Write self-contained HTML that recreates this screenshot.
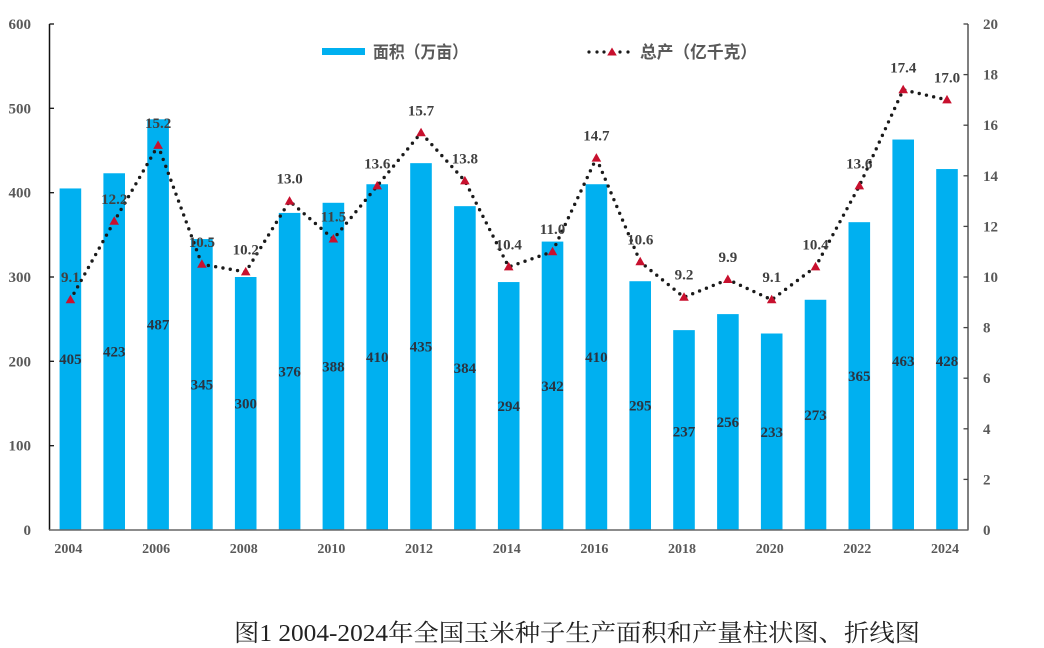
<!DOCTYPE html>
<html><head><meta charset="utf-8"><style>
html,body{margin:0;padding:0;background:#fff;}
svg{display:block;}
.tk{font-family:"Liberation Serif",serif;font-weight:bold;font-size:15px;fill:#595959;}
.yr{font-family:"Liberation Serif",serif;font-weight:bold;font-size:14px;fill:#595959;}
.bl{font-family:"Liberation Serif",serif;font-weight:bold;font-size:15px;fill:#2b3440;}
.ll{font-family:"Liberation Serif",serif;font-weight:bold;font-size:15px;fill:#404040;}
.lg{font-family:"Liberation Sans","Noto Sans CJK SC",sans-serif;font-weight:bold;font-size:17px;fill:#595959;}
.cap{font-family:"Liberation Serif","Noto Serif CJK SC",serif;font-size:24px;fill:#222;}
</style></head><body>
<svg width="1044" height="648" viewBox="0 0 1044 648" xmlns="http://www.w3.org/2000/svg">
<rect width="1044" height="648" fill="#fff"/>

<!-- bars -->
<g fill="#00B0F0">
<rect x="59.6" y="188.45" width="21.6" height="341.55"/>
<rect x="103.4" y="173.27" width="21.6" height="356.73"/>
<rect x="147.3" y="119.3" width="21.6" height="410.7"/>
<rect x="191.1" y="239.05" width="21.6" height="290.95"/>
<rect x="234.9" y="277" width="21.6" height="253"/>
<rect x="278.8" y="212.91" width="21.6" height="317.09"/>
<rect x="322.6" y="202.79" width="21.6" height="327.21"/>
<rect x="366.4" y="184.23" width="21.6" height="345.77"/>
<rect x="410.2" y="163.15" width="21.6" height="366.85"/>
<rect x="454.1" y="206.16" width="21.6" height="323.84"/>
<rect x="497.9" y="282.06" width="21.6" height="247.94"/>
<rect x="541.7" y="241.58" width="21.6" height="288.42"/>
<rect x="585.6" y="184.23" width="21.6" height="345.77"/>
<rect x="629.4" y="281.22" width="21.6" height="248.78"/>
<rect x="673.2" y="330.13" width="21.6" height="199.87"/>
<rect x="717.1" y="314.11" width="21.6" height="215.89"/>
<rect x="760.9" y="333.5" width="21.6" height="196.5"/>
<rect x="804.7" y="299.77" width="21.6" height="230.23"/>
<rect x="848.5" y="222.18" width="21.6" height="307.82"/>
<rect x="892.4" y="139.54" width="21.6" height="390.46"/>
<rect x="936.2" y="169.05" width="21.6" height="360.95"/>
</g>

<!-- bar labels -->
<g class="bl" text-anchor="middle">
<text x="70.4" y="364.2">405</text>
<text x="114.2" y="356.6">423</text>
<text x="158.1" y="329.7">487</text>
<text x="201.9" y="389.5">345</text>
<text x="245.7" y="408.5">300</text>
<text x="289.6" y="376.5">376</text>
<text x="333.4" y="371.4">388</text>
<text x="377.2" y="362.1">410</text>
<text x="421" y="351.6">435</text>
<text x="464.9" y="373.1">384</text>
<text x="508.7" y="411">294</text>
<text x="552.5" y="390.8">342</text>
<text x="596.4" y="362.1">410</text>
<text x="640.2" y="410.6">295</text>
<text x="684" y="436.6">237</text>
<text x="727.9" y="427.1">256</text>
<text x="771.7" y="436.8">233</text>
<text x="815.5" y="419.9">273</text>
<text x="859.3" y="381.1">365</text>
<text x="903.2" y="366">463</text>
<text x="947" y="366">428</text>
</g>

<!-- axes -->
<line x1="49.5" y1="24" x2="49.5" y2="530" stroke="#111" stroke-width="1.5"/>
<line x1="968" y1="24" x2="968" y2="530" stroke="#555" stroke-width="1.5"/>
<line x1="49" y1="530" x2="968.5" y2="530" stroke="#666" stroke-width="1.5"/>
<g stroke="#111" stroke-width="1.3">
<line x1="49.5" y1="24" x2="54" y2="24"/>
<line x1="49.5" y1="108.3" x2="54" y2="108.3"/>
<line x1="49.5" y1="192.7" x2="54" y2="192.7"/>
<line x1="49.5" y1="277" x2="54" y2="277"/>
<line x1="49.5" y1="361.3" x2="54" y2="361.3"/>
<line x1="49.5" y1="445.7" x2="54" y2="445.7"/>
</g>
<g stroke="#444" stroke-width="1.3">
<line x1="963.5" y1="24" x2="968" y2="24"/>
<line x1="963.5" y1="74.6" x2="968" y2="74.6"/>
<line x1="963.5" y1="125.2" x2="968" y2="125.2"/>
<line x1="963.5" y1="175.8" x2="968" y2="175.8"/>
<line x1="963.5" y1="226.4" x2="968" y2="226.4"/>
<line x1="963.5" y1="277" x2="968" y2="277"/>
<line x1="963.5" y1="327.6" x2="968" y2="327.6"/>
<line x1="963.5" y1="378.2" x2="968" y2="378.2"/>
<line x1="963.5" y1="428.8" x2="968" y2="428.8"/>
<line x1="963.5" y1="479.4" x2="968" y2="479.4"/>
</g>

<!-- left tick labels -->
<g class="tk" text-anchor="end">
<text x="31" y="29">600</text>
<text x="31" y="113.3">500</text>
<text x="31" y="197.7">400</text>
<text x="31" y="282">300</text>
<text x="31" y="366.3">200</text>
<text x="31" y="450.7">100</text>
<text x="31" y="535">0</text>
</g>
<!-- right tick labels -->
<g class="tk">
<text x="983" y="29">20</text>
<text x="983" y="79.6">18</text>
<text x="983" y="130.2">16</text>
<text x="983" y="180.8">14</text>
<text x="983" y="231.4">12</text>
<text x="983" y="282">10</text>
<text x="983" y="332.6">8</text>
<text x="983" y="383.2">6</text>
<text x="983" y="433.8">4</text>
<text x="983" y="484.4">2</text>
<text x="983" y="535">0</text>
</g>

<!-- year labels -->
<g class="yr" text-anchor="middle">
<text x="68.4" y="553">2004</text>
<text x="156.1" y="553">2006</text>
<text x="243.7" y="553">2008</text>
<text x="331.4" y="553">2010</text>
<text x="419" y="553">2012</text>
<text x="506.7" y="553">2014</text>
<text x="594.4" y="553">2016</text>
<text x="682" y="553">2018</text>
<text x="769.7" y="553">2020</text>
<text x="857.3" y="553">2022</text>
<text x="945" y="553">2024</text>
</g>

<!-- dotted line -->
<polyline fill="none" stroke="#1a1a1a" stroke-width="3.4" stroke-linecap="round" stroke-dasharray="0 7.4"
points="70.4,299.77 114.23,221.34 158.06,145.44 201.89,264.35 245.72,271.94 289.55,201.1 333.38,239.05 377.21,185.92 421.04,132.79 464.87,180.86 508.7,266.88 552.53,251.7 596.36,158.09 640.19,261.82 684.02,297.24 727.85,279.53 771.68,299.77 815.51,266.88 859.34,185.92 903.17,89.78 947,99.9"/>

<!-- markers -->
<g fill="#C8102E">
<polygon points="70.4,294.8 75.2,303.3 65.6,303.3"/>
<polygon points="114.23,216.3 119,224.8 109.4,224.8"/>
<polygon points="158.06,140.4 162.9,148.9 153.3,148.9"/>
<polygon points="201.89,259.3 206.7,267.8 197.1,267.8"/>
<polygon points="245.72,266.9 250.5,275.4 240.9,275.4"/>
<polygon points="289.55,196.1 294.4,204.6 284.8,204.6"/>
<polygon points="333.38,234 338.2,242.5 328.6,242.5"/>
<polygon points="377.21,180.9 382,189.4 372.4,189.4"/>
<polygon points="421.04,127.8 425.8,136.3 416.2,136.3"/>
<polygon points="464.87,175.9 469.7,184.4 460.1,184.4"/>
<polygon points="508.7,261.9 513.5,270.4 503.9,270.4"/>
<polygon points="552.53,246.7 557.3,255.2 547.7,255.2"/>
<polygon points="596.36,153.1 601.2,161.6 591.6,161.6"/>
<polygon points="640.19,256.8 645,265.3 635.4,265.3"/>
<polygon points="684.02,292.2 688.8,300.7 679.2,300.7"/>
<polygon points="727.85,274.5 732.6,283 723,283"/>
<polygon points="771.68,294.8 776.5,303.3 766.9,303.3"/>
<polygon points="815.51,261.9 820.3,270.4 810.7,270.4"/>
<polygon points="859.34,180.9 864.1,189.4 854.5,189.4"/>
<polygon points="903.17,84.8 908,93.3 898.4,93.3"/>
<polygon points="947,94.9 951.8,103.4 942.2,103.4"/>
</g>

<!-- line labels -->
<g class="ll" text-anchor="middle">
<text x="70.4" y="282.2">9.1</text>
<text x="114.2" y="203.8">12.2</text>
<text x="158.1" y="127.9">15.2</text>
<text x="201.9" y="246.8">10.5</text>
<text x="245.7" y="254.4">10.2</text>
<text x="289.6" y="183.6">13.0</text>
<text x="333.4" y="221.5">11.5</text>
<text x="377.2" y="168.4">13.6</text>
<text x="421" y="115.3">15.7</text>
<text x="464.9" y="163.4">13.8</text>
<text x="508.7" y="249.4">10.4</text>
<text x="552.5" y="234.2">11.0</text>
<text x="596.4" y="140.6">14.7</text>
<text x="640.2" y="244.3">10.6</text>
<text x="684" y="279.7">9.2</text>
<text x="727.9" y="262">9.9</text>
<text x="771.7" y="282.2">9.1</text>
<text x="815.5" y="249.4">10.4</text>
<text x="859.3" y="168.4">13.6</text>
<text x="903.2" y="72.3">17.4</text>
<text x="947" y="82.4">17.0</text>
</g>

<!-- legend -->
<rect x="322" y="48" width="43" height="7" fill="#00B0F0"/>
<text class="lg" x="373" y="58" textLength="95" lengthAdjust="spacingAndGlyphs">面积（万亩）</text>
<g fill="#1a1a1a">
<circle cx="589" cy="52" r="1.6"/>
<circle cx="597" cy="52" r="1.6"/>
<circle cx="604" cy="52" r="1.6"/>
<circle cx="620" cy="52" r="1.6"/>
<circle cx="628" cy="52" r="1.6"/>
</g>
<polygon points="612,47.5 616.8,55.5 607.2,55.5" fill="#C8102E"/>
<text class="lg" x="640" y="58" textLength="117" lengthAdjust="spacingAndGlyphs">总产（亿千克）</text>

<!-- caption -->
<text class="cap" x="234" y="641" textLength="686" lengthAdjust="spacingAndGlyphs">图1 2004-2024年全国玉米种子生产面积和产量柱状图、折线图</text>
</svg>
</body></html>
